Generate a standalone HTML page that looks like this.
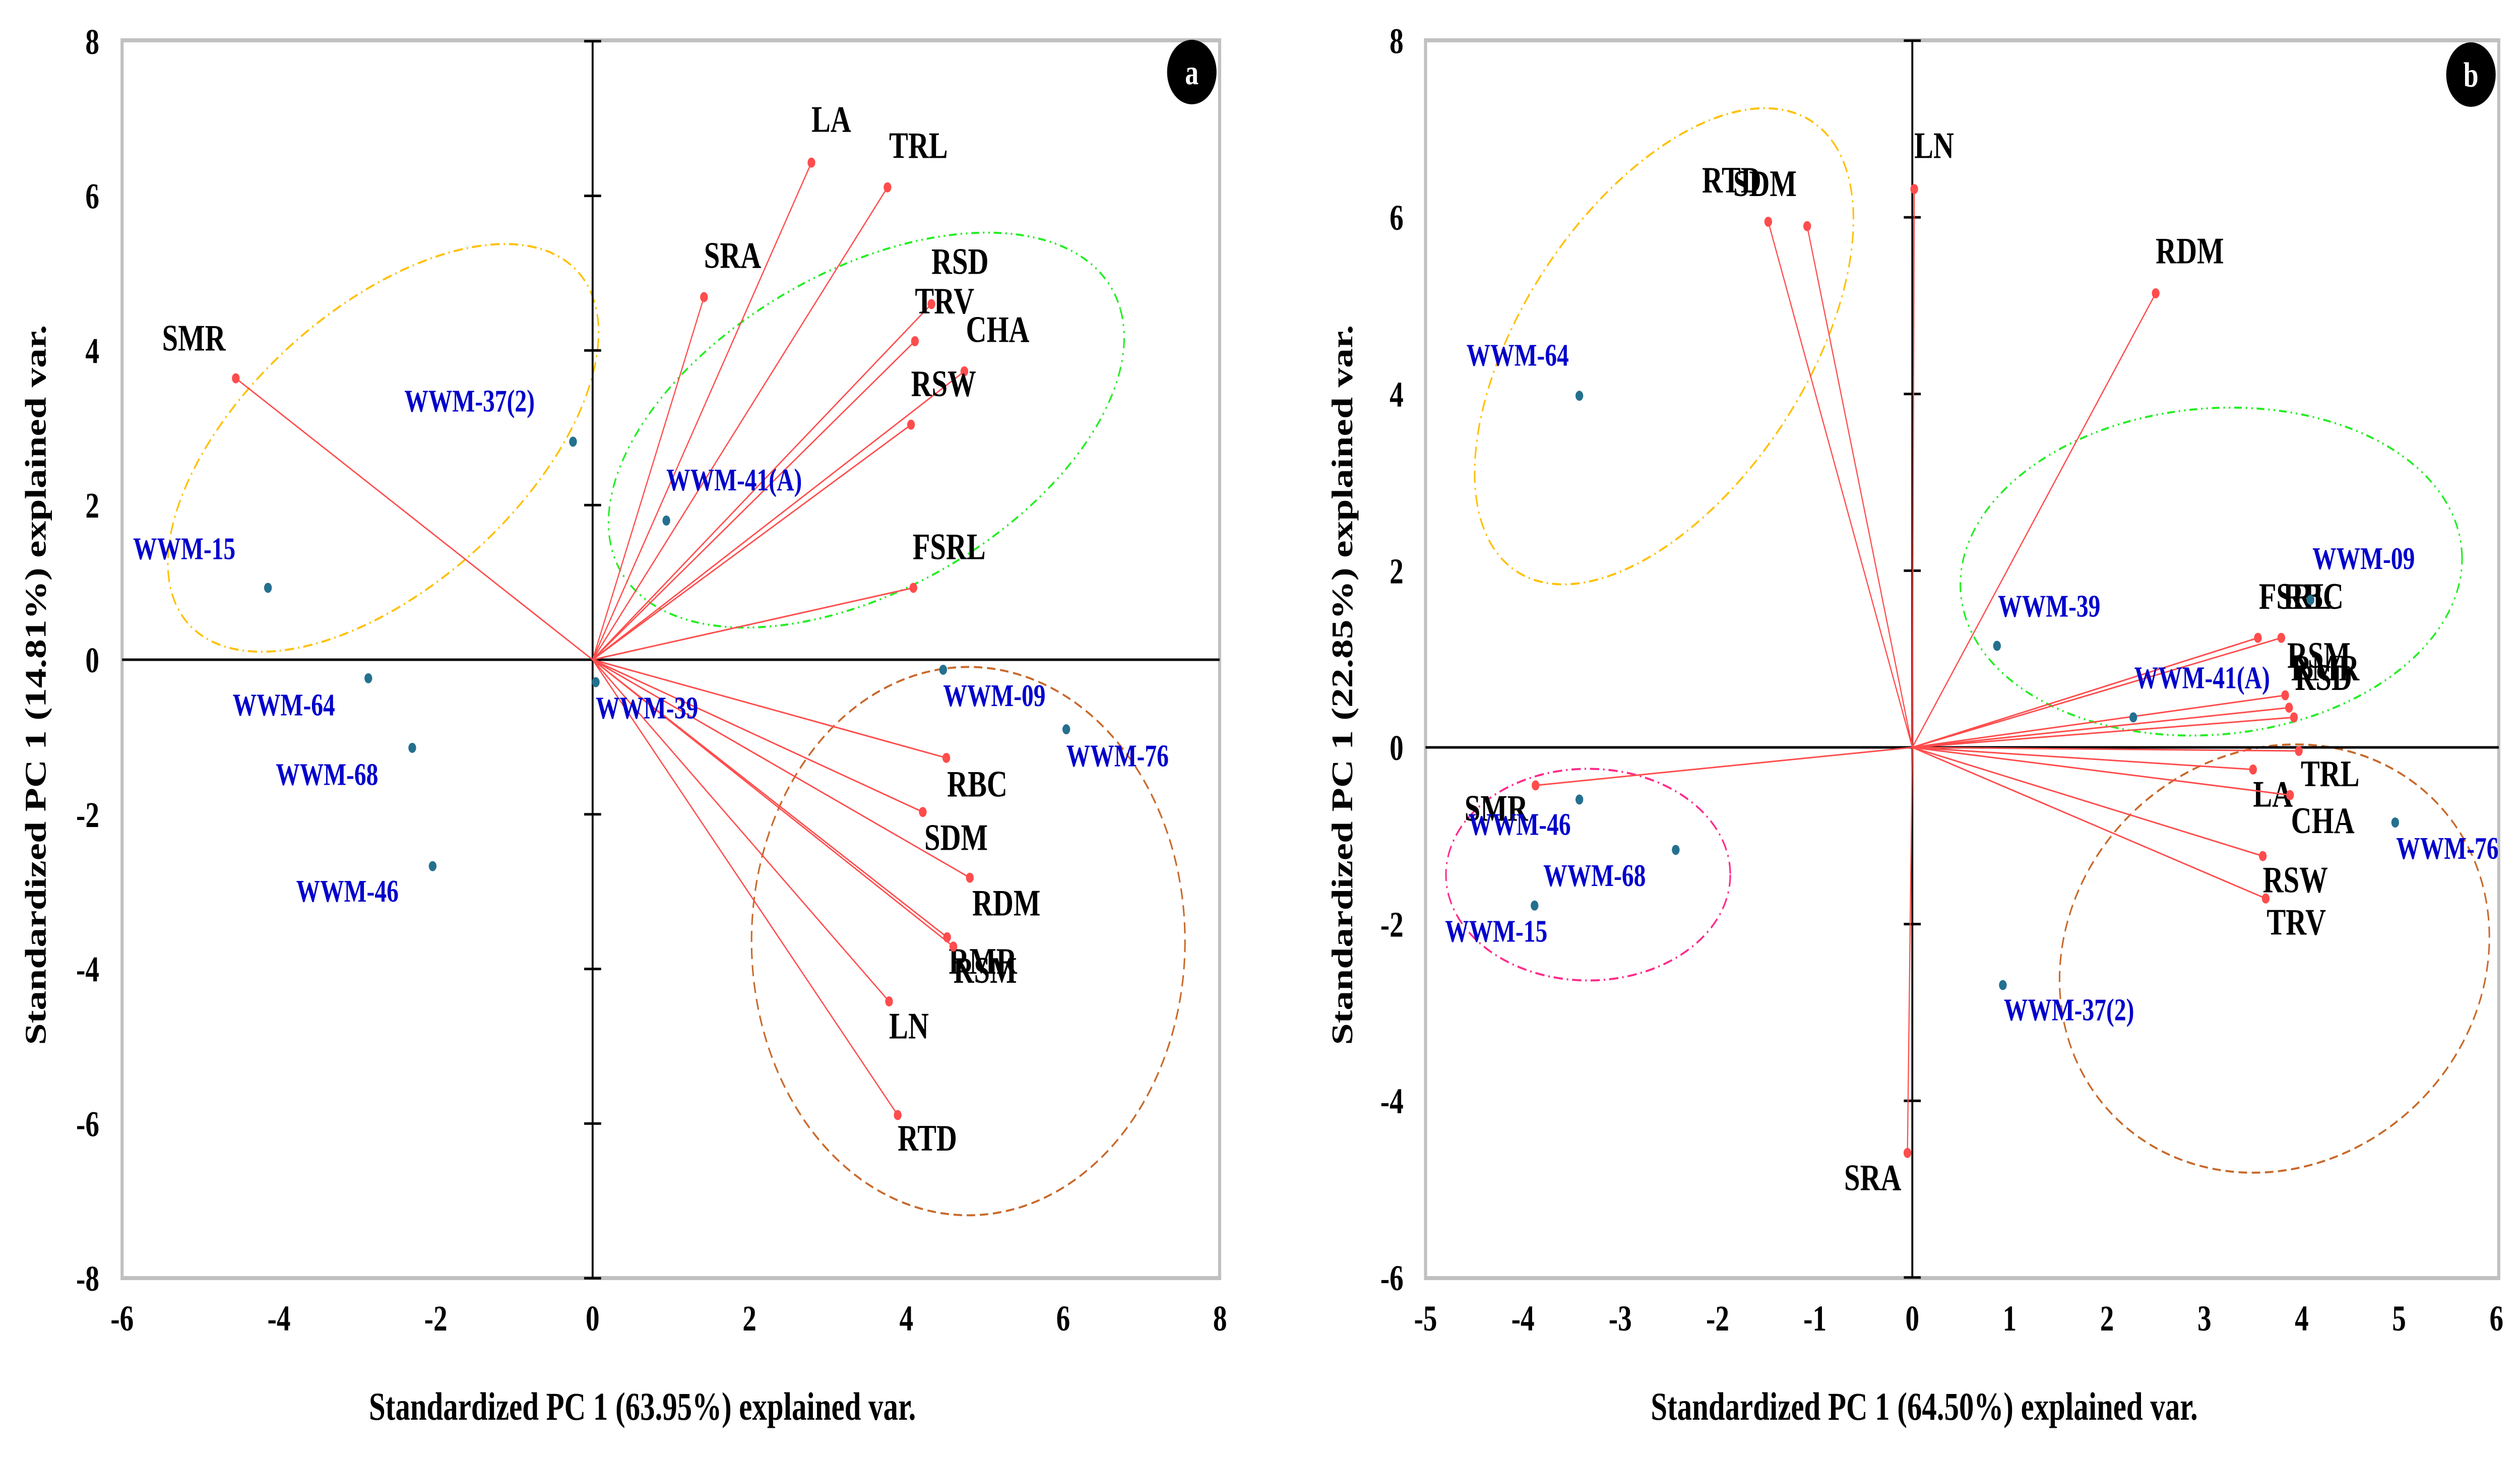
<!DOCTYPE html>
<html><head><meta charset="utf-8"><style>
html,body{margin:0;padding:0;background:#fff;width:100%;height:100%;overflow:hidden;}
svg{display:block;position:absolute;left:0;top:0;width:100vw;height:100vh;font-family:"Liberation Serif",serif;font-weight:bold;}
</style></head><body>
<svg id="chart" viewBox="0 0 6523 2891" preserveAspectRatio="none" xmlns="http://www.w3.org/2000/svg" overflow="hidden"></svg>
<script>
// ---------- Panel A data ----------
const aVarNames = ["LA","TRL","SRA","RSD","TRV","CHA","RSW","FSRL","SMR","RBC","SDM","RDM","RMR","RSM","LN","RTD"];
const aVarX = [2.79,3.76,1.42,4.32,4.11,4.74,4.06,4.09,-4.55,4.51,4.21,4.81,4.52,4.60,3.78,3.89];
const aVarY = [6.43,6.11,4.69,4.60,4.12,3.73,3.04,0.93,3.64,-1.27,-1.97,-2.82,-3.59,-3.71,-4.42,-5.89];
const aVarLabX = [2.79,3.78,1.42,4.32,4.11,4.76,4.06,4.08,-5.49,4.52,4.23,4.84,4.54,4.60,3.78,3.89];
const aVarLabY = [6.83,6.49,5.07,4.99,4.48,4.11,3.41,1.30,4.00,-1.77,-2.46,-3.31,-4.06,-4.18,-4.90,-6.35];
const aObsNames = ["WWM-37(2)","WWM-41(A)","WWM-15","WWM-64","WWM-39","WWM-68","WWM-46","WWM-09","WWM-76"];
const aObsX = [-0.25,0.94,-4.14,-2.86,0.04,-2.30,-2.04,4.47,6.04];
const aObsY = [2.82,1.80,0.93,-0.24,-0.29,-1.14,-2.67,-0.13,-0.90];
const aObsLabX = [-2.40,0.94,-5.86,-4.59,0.04,-4.04,-3.78,4.47,6.04];
const aObsLabY = [3.21,2.19,1.30,-0.72,-0.76,-1.62,-3.13,-0.60,-1.38];
const aXTicks = [-6,-4,-2,0,2,4,6,8];
const aYTicks = [-8,-6,-4,-2,0,2,4,6,8];

// ---------- Panel B data ----------
const bVarNames = ["LN","RTD","SDM","RDM","SRA","SMR","FSRL","RBC","RSM","RMR","RSD","TRL","LA","CHA","RSW","TRV"];
const bVarX = [0.02,-1.48,-1.08,2.50,-0.05,-3.87,3.55,3.79,3.83,3.87,3.92,3.97,3.50,3.88,3.60,3.63];
const bVarY = [6.32,5.95,5.90,5.14,-4.59,-0.43,1.24,1.24,0.59,0.45,0.34,-0.04,-0.25,-0.54,-1.23,-1.71];
const bVarLabX = [0.02,-2.16,-1.84,2.50,-0.70,-4.60,3.56,3.81,3.85,3.89,3.93,3.99,3.50,3.89,3.60,3.64];
const bVarLabY = [6.67,6.28,6.24,5.48,-5.01,-0.83,1.57,1.57,0.90,0.76,0.65,-0.44,-0.67,-0.97,-1.64,-2.12];
const bObsNames = ["WWM-64","WWM-39","WWM-41(A)","WWM-09","WWM-76","WWM-46","WWM-68","WWM-15","WWM-37(2)"];
const bObsX = [-3.42,0.87,2.27,4.09,4.96,-3.42,-2.43,-3.88,0.93];
const bObsY = [3.98,1.15,0.34,1.67,-0.85,-0.59,-1.16,-1.79,-2.69];
const bObsLabX = [-4.58,0.88,2.28,4.11,4.97,-4.56,-3.79,-4.80,0.94];
const bObsLabY = [4.32,1.48,0.67,2.02,-1.26,-0.99,-1.57,-2.20,-3.09];
const bXTicks = [-5,-4,-3,-2,-1,0,1,2,3,4,5,6];
const bYTicks = [-6,-4,-2,0,2,4,6,8];

const NS = "http://www.w3.org/2000/svg";
const svg = document.getElementById("chart");
function mk(tag, attrs, parent){
  const e = document.createElementNS(NS, tag);
  for (const k in attrs) e.setAttribute(k, attrs[k]);
  (parent||svg).appendChild(e);
  return e;
}

function drawPanel(p){
  const g = mk("g", {});
  
  
  const sx = v => p.x0 + v * p.ux;
  const sy = v => p.y0 - v * p.uy;
  const fr = mk("rect", {x:p.left, y:p.top, width:p.right-p.left, height:p.bottom-p.top, fill:"none", stroke:"#c0c0c0", "stroke-width":8}, g);
  
  
  p.ellipses.forEach((el, i) => {
    const e = mk("ellipse", {cx:sx(el.cx), cy:sy(el.cy), rx:el.rx, ry:el.ry, fill:"none", stroke:el.color, "stroke-width":4, "stroke-dasharray":el.dash, transform:`rotate(${el.rot} ${sx(el.cx)} ${sy(el.cy)})`}, g);
    
    
  });
  const xa = mk("line", {x1:p.left, y1:sy(0), x2:p.right, y2:sy(0), stroke:"#000", "stroke-width":5}, g);
  
  
  const ya = mk("line", {x1:sx(0), y1:p.top, x2:sx(0), y2:p.bottom, stroke:"#000", "stroke-width":5}, g);
  
  
  p.yTicks.forEach(t => {
    const tk = mk("line", {x1:sx(0)-22, y1:sy(t), x2:sx(0)+22, y2:sy(t), stroke:"#000", "stroke-width":5}, g);
    
    
    const tl = mk("text", {x:p.yLabRight, y:sy(t)+25, "text-anchor":"end", "font-size":72}, g);
    tl.textContent = t;
    
    
  });
  p.xTicks.forEach(t => {
    const tl = mk("text", {x:sx(t), y:2640, "text-anchor":"middle", "font-size":72}, g);
    tl.textContent = t;
    
    
  });
  p.varNames.forEach((n, i) => {
    const ln = mk("line", {x1:sx(0), y1:sy(0), x2:sx(p.varX[i]), y2:sy(p.varY[i]), stroke:"#ff4c4c", "stroke-width":3}, g);
    
    
    const c = mk("circle", {cx:sx(p.varX[i]), cy:sy(p.varY[i]), r:10, fill:"#ff4c4c"}, g);
    
    
    const t = mk("text", {x:sx(p.varLabX[i]), y:sy(p.varLabY[i]), "font-size":74, fill:"#000"}, g);
    t.textContent = n;
    
    
  });
  p.obsNames.forEach((n, i) => {
    const c = mk("circle", {cx:sx(p.obsX[i]), cy:sy(p.obsY[i]), r:10, fill:"#24708f"}, g);
    
    
    const t = mk("text", {x:sx(p.obsLabX[i]), y:sy(p.obsLabY[i]), "font-size":62, fill:"#0000cc"}, g);
    t.textContent = n;
    
    
  });
  const bc = mk("circle", {cx:p.badge[0], cy:p.badge[1], r:64, fill:"#000"}, g);
  
  
  const bt = mk("text", {x:p.badge[0], y:p.badge[1]+24, "text-anchor":"middle", "font-size":70, fill:"#fff"}, g);
  bt.textContent = p.letter;
  
  
  const xt = mk("text", {x:p.xTitleX, y:2817, "text-anchor":"middle", "font-size":78, textLength:1416, lengthAdjust:"spacingAndGlyphs"}, g);
  xt.textContent = p.xTitle;
  
  
  const yt = mk("text", {x:0, y:0, "text-anchor":"middle", "font-size":78, textLength:1429, lengthAdjust:"spacingAndGlyphs", transform:`translate(${p.yTitleX} 1359) rotate(-90)`}, g);
  yt.textContent = p.yTitle;
  
  
}

drawPanel({
  id:"panel-a", letter:"a", left:316, right:3157, top:80, bottom:2536,
  x0:1534, ux:203, y0:1309, uy:153.4, yLabRight:257,
  xTicks:aXTicks, yTicks:aYTicks,
  varNames:aVarNames, varX:aVarX, varY:aVarY, varLabX:aVarLabX, varLabY:aVarLabY,
  obsNames:aObsNames, obsX:aObsX, obsY:aObsY, obsLabX:aObsLabX, obsLabY:aObsLabY,
  badge:[3085,143], xTitleX:1663, yTitleX:118,
  xTitle:"Standardized PC 1 (63.95%) explained var.",
  yTitle:"Standardized PC 1 (14.81%) explained var.",
  ellipses:[
    {name:"yellow", cx:-2.67, cy:2.74, rx:620, ry:300, rot:-30, color:"#ffc000", dash:"24 10 4 10"},
    {name:"green", cx:3.49, cy:2.97, rx:700, ry:330, rot:-20, color:"#22ee22", dash:"20 10 4 10 4 10"},
    {name:"brown", cx:4.79, cy:-3.64, rx:561, ry:544, rot:0, color:"#c8692a", dash:"22 12"}
  ]
});
drawPanel({
  id:"panel-b", letter:"b", left:3690, right:6468, top:80, bottom:2536,
  x0:4950, ux:252, y0:1483, uy:175.3, yLabRight:3633,
  xTicks:bXTicks, yTicks:bYTicks,
  varNames:bVarNames, varX:bVarX, varY:bVarY, varLabX:bVarLabX, varLabY:bVarLabY,
  obsNames:bObsNames, obsX:bObsX, obsY:bObsY, obsLabX:bObsLabX, obsLabY:bObsLabY,
  badge:[6396,148], xTitleX:4981, yTitleX:3500,
  xTitle:"Standardized PC 1 (64.50%) explained var.",
  yTitle:"Standardized PC 1 (22.85%) explained var.",
  ellipses:[
    {name:"yellow", cx:-2.55, cy:4.54, rx:596, ry:329, rot:-43, color:"#ffc000", dash:"24 10 4 10"},
    {name:"green", cx:3.07, cy:1.99, rx:650, ry:324, rot:-3, color:"#22ee22", dash:"20 10 4 10 4 10"},
    {name:"pink", cx:-3.33, cy:-1.44, rx:368, ry:210, rot:0, color:"#ff2a8a", dash:"24 10 4 10"},
    {name:"brown", cx:3.72, cy:-2.39, rx:560, ry:420, rot:-10, color:"#c8692a", dash:"22 12"}
  ]
});
</script>
</body></html>
